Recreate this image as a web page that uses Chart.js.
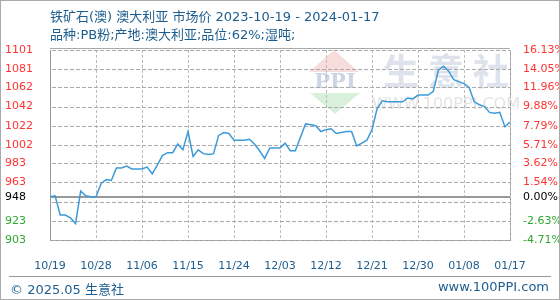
<!DOCTYPE html>
<html>
<head>
<meta charset="utf-8">
<script src="https://cdn.jsdelivr.net/npm/chart.js@4"></script>
<style>
  html,body{margin:0;padding:0;background:#fff;}
  #wrap{position:relative;width:560px;height:300px;overflow:hidden;font-family:"DejaVu Sans","Noto Sans CJK SC",sans-serif;}
  #wrap canvas{position:absolute;left:0;top:0;}
  .txt{position:absolute;color:#1d5d8e;white-space:nowrap;}
  #t1{left:50px;top:6px;font-size:13px;}
  #t2{left:50px;top:24px;font-size:13px;}
  #sep{position:absolute;left:9px;right:9px;top:276px;border-top:1px solid #999;}
  #copy{left:10px;top:279px;font-size:13px;}
  #site{right:11px;top:279px;font-size:13px;}
  #frame{position:absolute;left:0;top:0;width:558px;height:298px;border:1px solid #aaa;pointer-events:none;}
</style>
</head>
<body>
<div id="wrap">
  <canvas id="c" width="560" height="300"></canvas>
  <div class="txt" id="t1">铁矿石(澳) 澳大利亚 市场价 2023-10-19 - 2024-01-17</div>
  <div class="txt" id="t2">品种:PB粉;产地:澳大利亚;品位:62%;湿吨;</div>
  <div id="sep"></div>
  <div class="txt" id="copy">© 2025.05 生意社</div>
  <div class="txt" id="site">www.100PPI.com</div>
  <div id="frame"></div>
</div>
<script>
// ===== data =====
const startDate = '2023-10-19';
const dayCount = 91;
const prices = [
  948, 949, 929, 929, 926, 920, 954, 949, 948, 948,
  962, 966, 965, 978, 978, 980, 977, 977, 977, 979,
  972, 981, 991, 994, 994, 1003, 997, 1016, 990, 997,
  993, 992, 993, 1012, 1015, 1014, 1007, 1007, 1007, 1008,
  1003, 996, 988, 999, 999, 999, 1004, 996, 996, 1010,
  1024, 1023, 1022, 1016, 1018, 1019, 1014, 1015, 1016, 1016,
  1001, 1004, 1007, 1018, 1040, 1048, 1047, 1047, 1047, 1047,
  1051, 1050, 1054, 1054, 1054, 1058, 1080, 1084, 1079, 1070,
  1068, 1066, 1062, 1047, 1044, 1042, 1036, 1035, 1036, 1021,
  1026
];
const basePrice = 948;
const priceTicks = [903, 923, 943, 963, 983, 1002, 1022, 1042, 1062, 1081, 1101];
const pctLabels  = ['-4.71%', '-2.63%', '', '1.54%', '3.62%', '5.71%', '7.79%', '9.88%', '11.96%', '14.05%', '16.13%'];
const labelEvery = 9;

// day labels MM/DD
const dates = [];
(function(){
  const d0 = new Date(startDate + 'T00:00:00Z');
  for (let i=0;i<dayCount;i++){
    const d = new Date(d0.getTime() + i*86400000);
    dates.push(String(d.getUTCMonth()+1).padStart(2,'0') + '/' + String(d.getUTCDate()).padStart(2,'0'));
  }
})();

const RED = '#ff3333', GREEN = '#2fa82f', BLACK = '#000';
const tickColor = v => v > basePrice ? RED : (v < basePrice ? GREEN : BLACK);
const yTicks = s => { s.ticks = priceTicks.concat([basePrice]).sort((a,b)=>a-b).map(v=>({value:v})); };
const FONT = { family:'"DejaVu Sans", sans-serif', size:11 };

// dashed grid as 1px rectangles
function dashH(ctx, x1, x2, y){ for (let x=x1; x<x2; x+=6) ctx.fillRect(x, y, Math.min(4, x2-x), 1); }
function dashV(ctx, x, y1, y2){ for (let y=y1; y<y2; y+=5) ctx.fillRect(x, y, 1, Math.min(3, y2-y)); }

// watermark, dashed grid on the scale positions, 0% base line
const decor = {
  id:'decor',
  beforeDatasetsDraw(chart){
    const ctx = chart.ctx, a = chart.chartArea, x = chart.scales.x, y = chart.scales.y;
    ctx.save();
    ctx.fillStyle = '#f8dcdc';
    ctx.beginPath(); ctx.moveTo(334,50); ctx.lineTo(359,72); ctx.lineTo(309,72); ctx.closePath(); ctx.fill();
    ctx.fillStyle = '#d9f0dc';
    ctx.beginPath(); ctx.moveTo(310,93); ctx.lineTo(360,93); ctx.lineTo(335,114); ctx.closePath(); ctx.fill();
    ctx.fillStyle = '#ccd5e6';
    ctx.font = 'bold 21px "DejaVu Serif", serif';
    ctx.textAlign = 'center'; ctx.textBaseline = 'middle';
    ctx.fillText('PPI', 335, 83);
    ctx.fillStyle = '#dde2ec';
    ctx.font = 'bold 36px "Noto Sans CJK SC", sans-serif';
    ctx.fillText('生', 401, 71);
    ctx.fillText('意', 446, 71);
    ctx.fillText('社', 491, 71);
    ctx.fillStyle = '#e4e4e4';
    ctx.font = '16px "DejaVu Sans", sans-serif';
    ctx.fillText('WWW.100PPI.COM', 446, 105);

    const L = Math.round(a.left), R = Math.round(a.right), T = Math.round(a.top), B = Math.round(a.bottom);
    ctx.fillStyle = '#bbbbbb';
    for (let i = labelEvery; i < dayCount; i += labelEvery){
      dashV(ctx, Math.round(x.getPixelForValue(i)), T, B);
    }
    ctx.fillStyle = '#aaaaaa';
    priceTicks.forEach(v => {
      dashH(ctx, L + 2, R, Math.round(y.getPixelForValue(v)));
    });

    ctx.fillStyle = '#999';
    ctx.fillRect(L, Math.round(y.getPixelForValue(basePrice)) - 1, R - L, 2);
    ctx.fillStyle = '#aaa';
    ctx.fillRect(L, T - 2, R - L, 1);
    ctx.restore();
  }
};

new Chart(document.getElementById('c').getContext('2d'), {
  type:'line',
  data:{ datasets:[{
    data: prices.map((v,i)=>({x:i, y:v})),
    borderColor:'#3d9ad8', borderWidth:1.5, pointRadius:0, tension:0, fill:false
  }]},
  options:{
    responsive:false, animation:false,
    layout:{ padding:{ left:5, right:0, top:50, bottom:0 } },
    plugins:{ legend:{ display:false }, tooltip:{ enabled:false } },
    scales:{
      x:{
        type:'linear', min:0, max:dayCount-1,
        afterFit: s => { s.height = 60; },
        grid:{ display:false },
        border:{ display:true, color:'#999', width:1 },
        ticks:{ stepSize:labelEvery, maxRotation:0, padding:12, color:'#1d5d8e', font:FONT,
          callback: v => dates[v] }
      },
      y:{
        position:'left', min:903, max:1101,
        afterBuildTicks: yTicks,
        afterFit: s => { s.width = 45; },
        grid:{ display:false },
        border:{ display:true, color:'#999', width:1 },
        ticks:{ crossAlign:'far', padding:4, color: c => tickColor(c.tick.value), font:FONT,
          callback: v => v === 943 ? '' : String(v) }
      },
      y2:{
        position:'right', min:903, max:1101,
        afterBuildTicks: yTicks,
        afterFit: s => { s.width = 50; },
        grid:{ display:false },
        border:{ display:true, color:'#999', width:1 },
        ticks:{ padding:5, color: c => tickColor(c.tick.value), font:FONT,
          callback: v => v === basePrice ? '0.00%' : pctLabels[priceTicks.indexOf(v)] }
      }
    }
  },
  plugins:[decor]
});
</script>
</body>
</html>
